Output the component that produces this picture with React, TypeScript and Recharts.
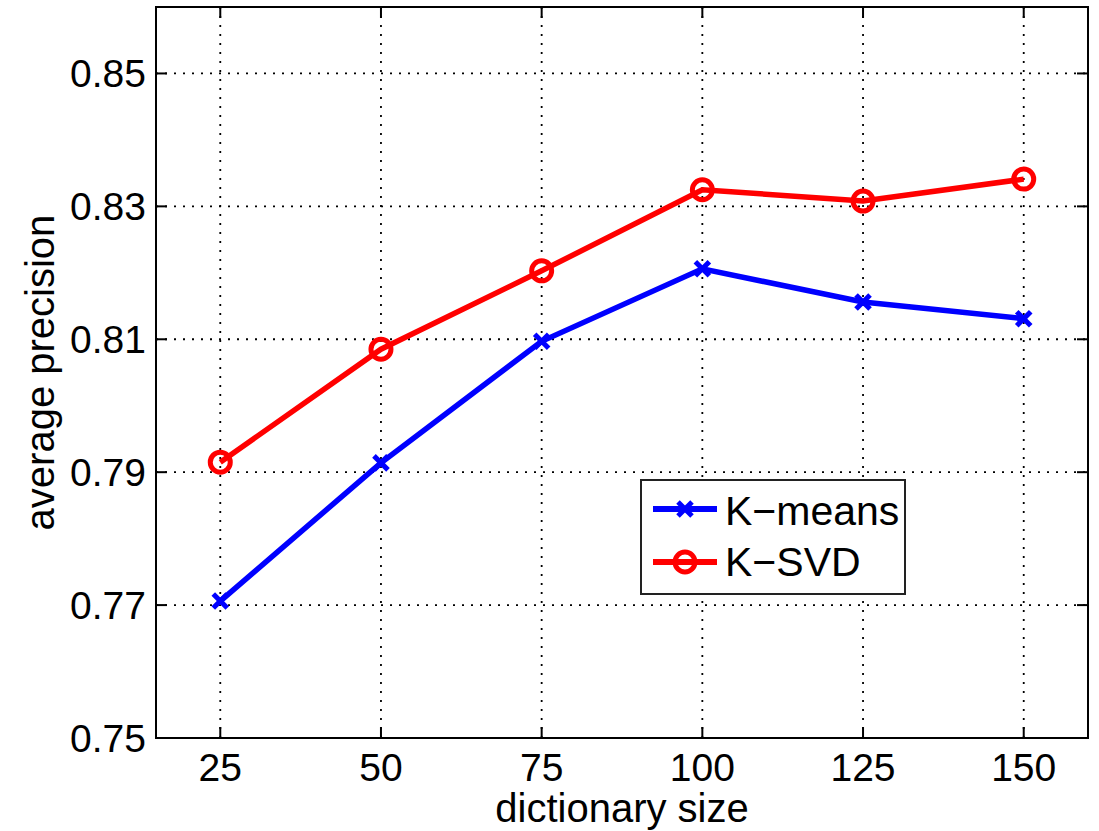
import React from 'react';
import { LineChart, Line, XAxis, YAxis, CartesianGrid, ReferenceArea, ReferenceLine, Legend } from 'recharts';

const dictionarySizes = [25, 50, 75, 100, 125, 150];
const kMeans = [0.7706, 0.7914, 0.8097, 0.8206, 0.8156, 0.8131];
const kSvd = [0.7915, 0.8085, 0.8203, 0.8325, 0.8308, 0.8341];
const xTicks = [25, 50, 75, 100, 125, 150];
const yTicks = [0.75, 0.77, 0.79, 0.81, 0.83, 0.85];
const xDomain: [number, number] = [15, 160];
const yDomain: [number, number] = [0.75, 0.86];
const seriesNames = ['K\u2212means', 'K\u2212SVD'];

const data = dictionarySizes.map((d, i) => ({ size: d, kmeans: kMeans[i], ksvd: kSvd[i] }));

const W = 1099;
const H = 831;
const M = { top: 7, right: 11, left: 0, bottom: 0 };
const Y_AXIS_W = 156;
const X_AXIS_H = 93;
const plotW = W - M.left - M.right - Y_AXIS_W;
const plotH = H - M.top - M.bottom - X_AXIS_H;
const TICK_PX = 11;
const xTickLen = ((xDomain[1] - xDomain[0]) * TICK_PX) / plotW;
const yTickLen = ((yDomain[1] - yDomain[0]) * TICK_PX) / plotH;

const FONT = '"Liberation Sans", Arial, sans-serif';

const XMark = (props: any) => {
  const { cx, cy } = props;
  if (cx == null || cy == null) return <g key={props.key} />;
  const s = 7;
  return (
    <g key={props.key}>
      <line x1={cx - s} y1={cy - s} x2={cx + s} y2={cy + s} stroke="#0000ff" strokeWidth={5} />
      <line x1={cx - s} y1={cy + s} x2={cx + s} y2={cy - s} stroke="#0000ff" strokeWidth={5} />
    </g>
  );
};

const OMark = (props: any) => {
  const { cx, cy } = props;
  if (cx == null || cy == null) return <g key={props.key} />;
  return <circle key={props.key} cx={cx} cy={cy} r={10} fill="none" stroke="#ff0000" strokeWidth={5} />;
};

const renderLegend = () => (
  <svg width={262} height={112} style={{ display: 'block' }}>
    <line x1={11} y1={28} x2={75} y2={28} stroke="#0000ff" strokeWidth={6} />
    <XMark cx={43} cy={28} />
    <text x={83} y={44} fontSize={41} fontFamily={FONT} fill="#000">{seriesNames[0]}</text>
    <line x1={11} y1={81} x2={75} y2={81} stroke="#ff0000" strokeWidth={6} />
    <OMark cx={43} cy={81} />
    <text x={83} y={95} fontSize={41} fontFamily={FONT} fill="#000">{seriesNames[1]}</text>
  </svg>
);

export default function App() {
  return (
    <div style={{ position: 'absolute', left: 0, top: 0, background: '#fff' }}>
      <LineChart width={W} height={H} data={data} margin={M}>
        <CartesianGrid stroke="#000" strokeWidth={1.8} strokeDasharray="2 7" fill="none" />
        <XAxis
          dataKey="size"
          type="number"
          domain={xDomain}
          ticks={xTicks}
          allowDataOverflow
          height={X_AXIS_H}
          axisLine={false}
          tickLine={false}
          tickSize={0}
          tickMargin={15}
          tick={{ fontSize: 39, fill: '#000', fontFamily: FONT }}
          label={{ value: 'dictionary size', position: 'insideBottom', offset: 9, fontSize: 40, fill: '#000', fontFamily: FONT }}
        />
        <YAxis
          type="number"
          domain={yDomain}
          ticks={yTicks}
          allowDataOverflow
          width={Y_AXIS_W}
          axisLine={false}
          tickLine={false}
          tickSize={0}
          tickMargin={10}
          tickFormatter={(v: number) => v.toFixed(2)}
          tick={{ fontSize: 39, fill: '#000', fontFamily: FONT }}
          label={{ value: 'average precision', angle: -90, position: 'center', dx: -38, fontSize: 40, fill: '#000', fontFamily: FONT }}
        />
        {xTicks.map((t) => (
          <ReferenceLine key={'xb' + t} segment={[{ x: t, y: yDomain[0] }, { x: t, y: yDomain[0] + yTickLen }]} stroke="#000" strokeWidth={2} />
        ))}
        {xTicks.map((t) => (
          <ReferenceLine key={'xt' + t} segment={[{ x: t, y: yDomain[1] }, { x: t, y: yDomain[1] - yTickLen }]} stroke="#000" strokeWidth={2} />
        ))}
        {yTicks.map((t) => (
          <ReferenceLine key={'yl' + t} segment={[{ x: xDomain[0], y: t }, { x: xDomain[0] + xTickLen, y: t }]} stroke="#000" strokeWidth={2} />
        ))}
        {yTicks.map((t) => (
          <ReferenceLine key={'yr' + t} segment={[{ x: xDomain[1], y: t }, { x: xDomain[1] - xTickLen, y: t }]} stroke="#000" strokeWidth={2} />
        ))}
        <ReferenceArea x1={xDomain[0]} x2={xDomain[1]} y1={yDomain[0]} y2={yDomain[1]} fill="none" stroke="#000" strokeWidth={2} />
        <Line dataKey="kmeans" name={seriesNames[0]} stroke="#0000ff" strokeWidth={5.5} dot={XMark} activeDot={false} isAnimationActive={false} />
        <Line dataKey="ksvd" name={seriesNames[1]} stroke="#ff0000" strokeWidth={5.5} dot={OMark} activeDot={false} isAnimationActive={false} />
        <Legend
          layout="horizontal"
          verticalAlign="middle"
          align="center"
          content={renderLegend}
          wrapperStyle={{ left: 640, top: 479, width: 266, height: 116, border: '2px solid #222', boxSizing: 'border-box', background: '#fff' }}
        />
      </LineChart>
    </div>
  );
}
